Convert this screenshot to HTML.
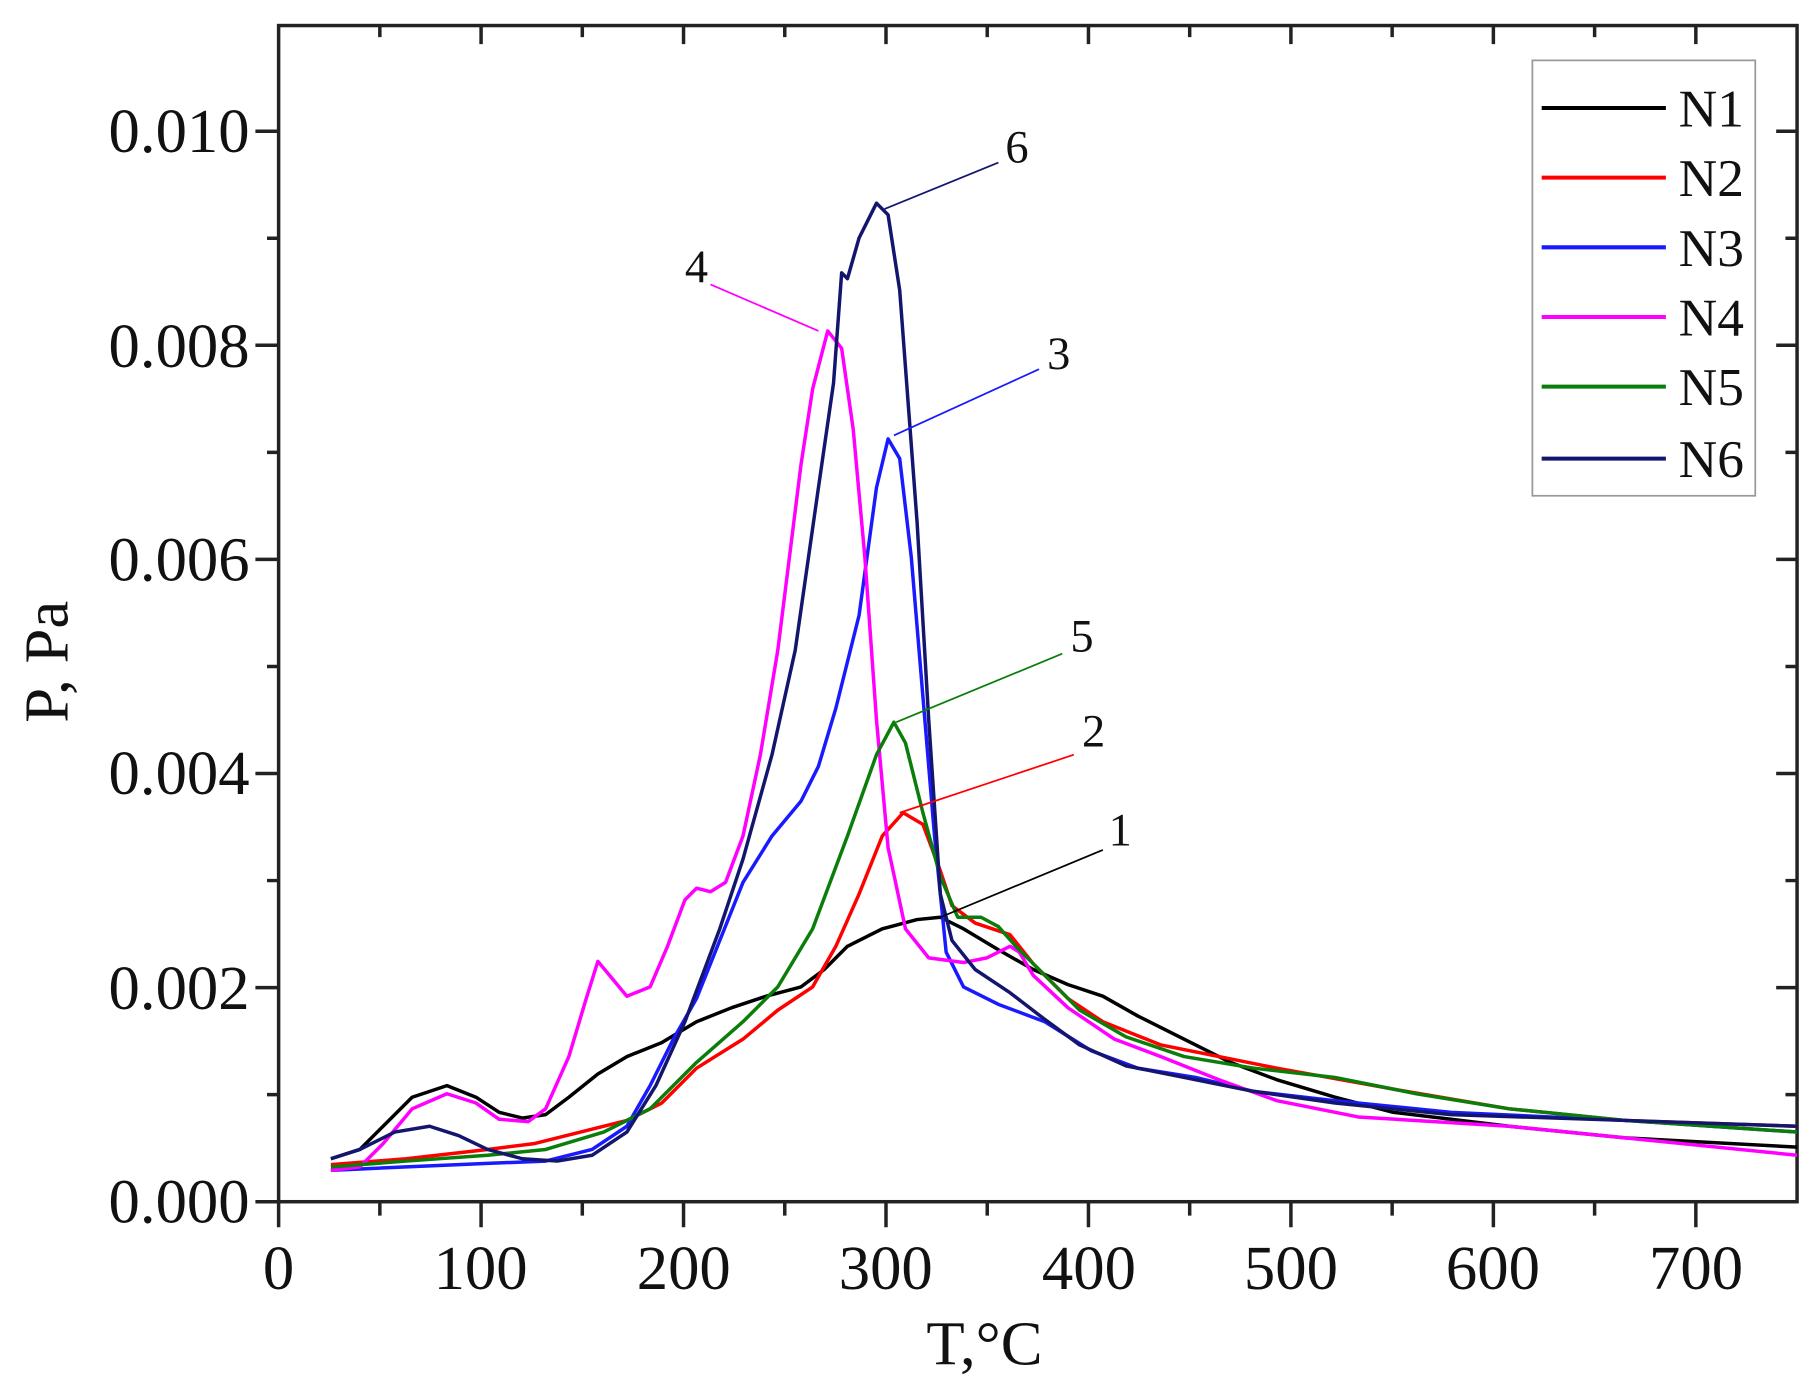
<!DOCTYPE html>
<html><head><meta charset="utf-8"><style>html,body{margin:0;padding:0;background:#fff}svg{display:block}</style></head>
<body>
<svg width="1811" height="1384" viewBox="0 0 1560 1192" preserveAspectRatio="none" xmlns="http://www.w3.org/2000/svg" font-family="Liberation Serif, serif">
<rect width="1560" height="1192" fill="#fff"/>
<g stroke="#222" stroke-width="3" fill="none">
<rect x="240" y="22" width="1308" height="1013"/>
<path d="M240 1035v22M414.4 1035v22M588.8 1035v22M763.2 1035v22M937.6 1035v22M1112 1035v22M1286.4 1035v22M1460.8 1035v22
M327.2 1035v12M501.6 1035v12M676 1035v12M850.4 1035v12M1024.8 1035v12M1199.2 1035v12M1373.6 1035v12
M414.4 22v16M588.8 22v16M763.2 22v16M937.6 22v16M1112 22v16M1286.4 22v16M1460.8 22v16
M327.2 22v10M501.6 22v10M676 22v10M850.4 22v10M1024.8 22v10M1199.2 22v10M1373.6 22v10
M240 1035h-20M240 850.6h-20M240 666.2h-20M240 481.8h-20M240 297.4h-20M240 113h-20
M240 942.8h-10M240 758.4h-10M240 574h-10M240 389.6h-10M240 205.2h-10
M1548 850.6h-18M1548 666.2h-18M1548 481.8h-18M1548 297.4h-18M1548 113h-18
M1548 942.8h-10M1548 758.4h-10M1548 574h-10M1548 389.6h-10M1548 205.2h-10"/>
</g>
<g font-size="54" fill="#111" text-anchor="end">
<text x="215" y="1053">0.000</text><text x="215" y="869">0.002</text><text x="215" y="684">0.004</text>
<text x="215" y="500">0.006</text><text x="215" y="316">0.008</text><text x="215" y="131">0.010</text>
</g>
<g font-size="54" fill="#111" text-anchor="middle">
<text x="240" y="1110">0</text><text x="414" y="1110">100</text><text x="589" y="1110">200</text><text x="763" y="1110">300</text>
<text x="938" y="1110">400</text><text x="1112" y="1110">500</text><text x="1286" y="1110">600</text><text x="1461" y="1110">700</text>
<text x="848" y="1175">T,°C</text>
<text transform="translate(58,570) rotate(-90)">P, Pa</text>
</g>
<g fill="none" stroke-width="3" stroke-linejoin="round">
<polyline stroke="#000" points="285,998 310,990 330,970 355,945 385,935 410,945 430,958 450,963 470,960 490,945 515,925 540,910 570,898 600,880 630,868 660,858 690,850 710,835 730,815 760,800 790,792 810,790 830,800 860,818 890,835 920,848 950,858 980,875 1020,895 1060,915 1100,930 1150,945 1200,958 1300,970 1400,980 1548,988"/>
<polyline stroke="#f00" points="285,1003 350,998 420,990 460,985 500,975 540,965 570,950 600,920 640,895 670,870 700,850 720,815 740,770 760,720 778,700 795,710 810,750 820,780 840,795 870,805 890,830 920,860 950,880 1000,900 1100,920 1200,938 1300,955 1400,965 1548,970"/>
<polyline stroke="#1a1aff" points="285,1008 350,1005 420,1002 470,1000 510,990 540,970 560,935 580,895 600,860 620,810 640,760 665,720 690,690 705,660 720,610 740,530 755,420 765,378 775,395 785,480 795,600 805,720 815,820 830,850 860,865 900,880 940,905 980,920 1030,928 1080,940 1150,948 1250,958 1400,965 1548,975"/>
<polyline stroke="#ff00ff" points="285,1008 310,1005 330,985 355,955 385,942 410,950 430,964 455,966 470,955 490,910 505,860 515,828 525,840 540,858 560,850 575,815 590,775 600,765 612,768 625,760 640,720 655,650 670,560 690,400 700,335 713,285 725,300 735,370 745,480 755,620 765,730 780,800 800,825 830,829 850,825 870,815 878,820 890,840 920,868 960,895 1000,910 1050,930 1100,948 1170,962 1300,970 1400,980 1548,995"/>
<polyline stroke="#0a7d0a" points="285,1005 350,1000 420,995 470,990 520,975 560,955 600,915 640,880 670,850 700,800 730,720 755,650 770,622 780,640 795,700 810,755 825,790 845,790 860,798 875,815 900,840 930,870 970,893 1020,910 1080,920 1150,928 1220,942 1300,955 1400,965 1548,975"/>
<polyline stroke="#14166e" points="285,998 310,990 340,975 370,970 395,978 420,990 450,998 480,1000 510,995 540,975 565,935 590,880 620,800 640,740 665,650 685,560 705,420 718,330 725,235 730,240 740,205 755,175 765,185 775,250 790,450 800,620 810,770 820,810 840,835 870,855 900,878 930,900 970,918 1020,928 1080,940 1150,950 1250,960 1400,965 1548,970"/>
</g>
<g stroke-width="1.5" fill="none">
<line x1="762" y1="180" x2="860" y2="140" stroke="#14166e"/>
<line x1="705" y1="285" x2="612" y2="245" stroke="#ff00ff"/>
<line x1="770" y1="375" x2="895" y2="318" stroke="#1a1aff"/>
<line x1="772" y1="622" x2="915" y2="563" stroke="#0a7d0a"/>
<line x1="775" y1="700" x2="925" y2="650" stroke="#f00"/>
<line x1="810" y1="790" x2="950" y2="732" stroke="#000"/>
</g>
<g font-size="40" fill="#111" text-anchor="middle">
<text x="876" y="140">6</text><text x="600" y="243">4</text><text x="912" y="318">3</text>
<text x="932" y="561">5</text><text x="942" y="643">2</text><text x="965" y="728">1</text>
</g>
<rect x="1320" y="52" width="192" height="375" fill="#fff" stroke="#999" stroke-width="1.5"/>
<g stroke-width="3.5">
<line x1="1328" y1="93" x2="1435" y2="93" stroke="#000"/>
<line x1="1328" y1="153" x2="1435" y2="153" stroke="#f00"/>
<line x1="1328" y1="213" x2="1435" y2="213" stroke="#1a1aff"/>
<line x1="1328" y1="273" x2="1435" y2="273" stroke="#ff00ff"/>
<line x1="1328" y1="333" x2="1435" y2="333" stroke="#0a7d0a"/>
<line x1="1328" y1="395" x2="1435" y2="395" stroke="#14166e"/>
</g>
<g font-size="46" fill="#111">
<text x="1446" y="109">N1</text><text x="1446" y="169">N2</text><text x="1446" y="229">N3</text>
<text x="1446" y="289">N4</text><text x="1446" y="349">N5</text><text x="1446" y="411">N6</text>
</g>
</svg>
</body></html>
